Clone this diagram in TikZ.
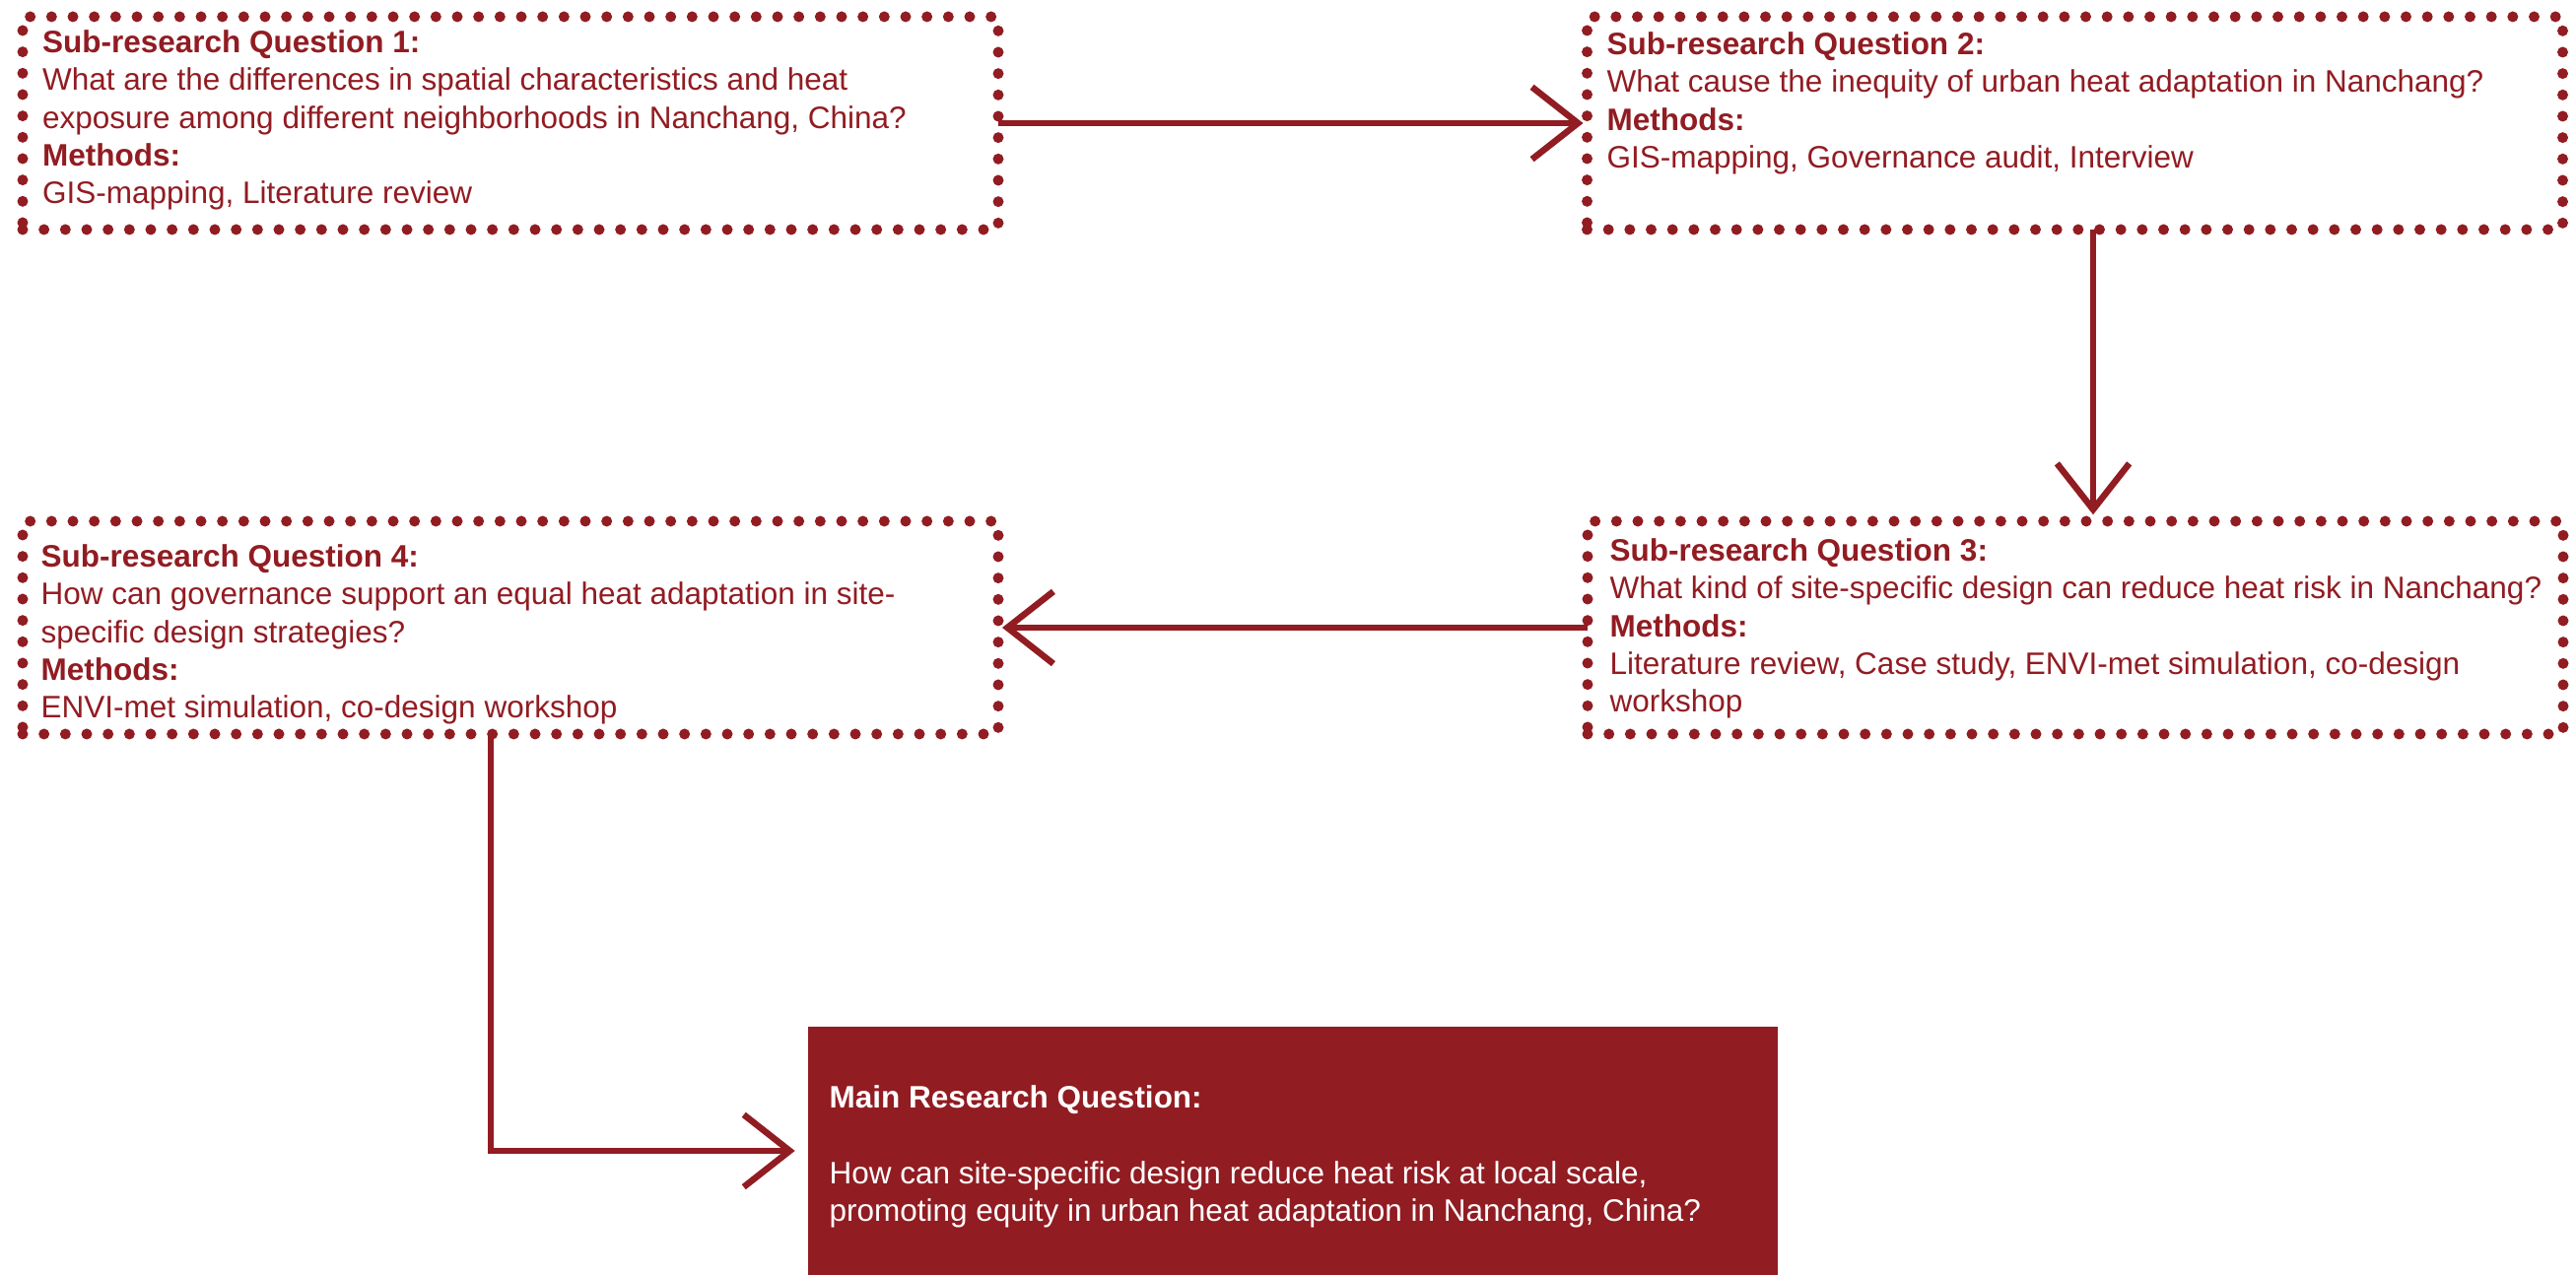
\documentclass[tikz,border=0pt]{standalone}
\usepackage{fontspec}
\setmainfont{Liberation Sans}
\usetikzlibrary{arrows.meta}
\definecolor{heatred}{RGB}{145,28,34}
\begin{document}
\begin{tikzpicture}[x=0.3pt,y=-0.3pt,
  dotbox/.style={draw=heatred, line width=3.3pt, line cap=round,
    dash pattern=on 0pt off 6.5pt, minimum width=297pt, minimum height=64.8pt,
    inner sep=0pt, outer sep=0pt, rectangle},
  mainbox/.style={fill=heatred, draw=none, minimum width=295.2pt, minimum height=75.6pt,
    inner sep=0pt, outer sep=0pt, rectangle},
  txt/.style={anchor=north west, align=left, inner sep=0pt, text=heatred,
    font=\fontsize{9.45pt}{11.5pt}\selectfont},
  whitetxt/.style={txt, text=white},
  arr/.style={draw=heatred, line width=1.95pt,
    -{Straight Barb[length=14pt,width=22pt]}}
]
\useasboundingbox (0,0) rectangle (2614,1294);

% boxes
\node[dotbox] (b1) at (518,125) {};
\node[dotbox] (b2) at (2105.5,125) {};
\node[dotbox] (b3) at (2106,637) {};
\node[dotbox] (b4) at (518,637) {};
\node[mainbox] (main) at (1312,1168) {};

% texts
\node[txt] (t1) at (42.5,30) {\textbf{Sub-research Question 1:}\\What are the differences in spatial characteristics and heat\\exposure among different neighborhoods in Nanchang, China?\\\textbf{Methods:}\\GIS-mapping, Literature review};
\node[txt] (t2) at (1630,32) {\textbf{Sub-research Question 2:}\\What cause the inequity of urban heat adaptation in Nanchang?\\\textbf{Methods:}\\GIS-mapping, Governance audit, Interview};
\node[txt] (t3) at (1633,546) {\textbf{Sub-research Question 3:}\\What kind of site-specific design can reduce heat risk in Nanchang?\\\textbf{Methods:}\\Literature review, Case study, ENVI-met simulation, co-design\\workshop};
\node[txt] (t4) at (41,552) {\textbf{Sub-research Question 4:}\\How can governance support an equal heat adaptation in site-\\specific design strategies?\\\textbf{Methods:}\\ENVI-met simulation, co-design workshop};
\node[whitetxt] (tm) at (841,1101) {\textbf{Main Research Question:}\\\mbox{}\\How can site-specific design reduce heat risk at local scale,\\promoting equity in urban heat adaptation in Nanchang, China?};

% connectors
\draw[arr] (b1.east) -- ([xshift=-1.2pt]b2.west);
\draw[arr] ([xshift=5.55pt]b2.south) -- ([xshift=5.4pt,yshift=2pt]b3.north);
\draw[arr] (b3.west) -- ([xshift=1.2pt]b4.east);
\draw[arr] ([xshift=-6pt]b4.south) |- ([xshift=-4pt]main.west);
\end{tikzpicture}
\end{document}
